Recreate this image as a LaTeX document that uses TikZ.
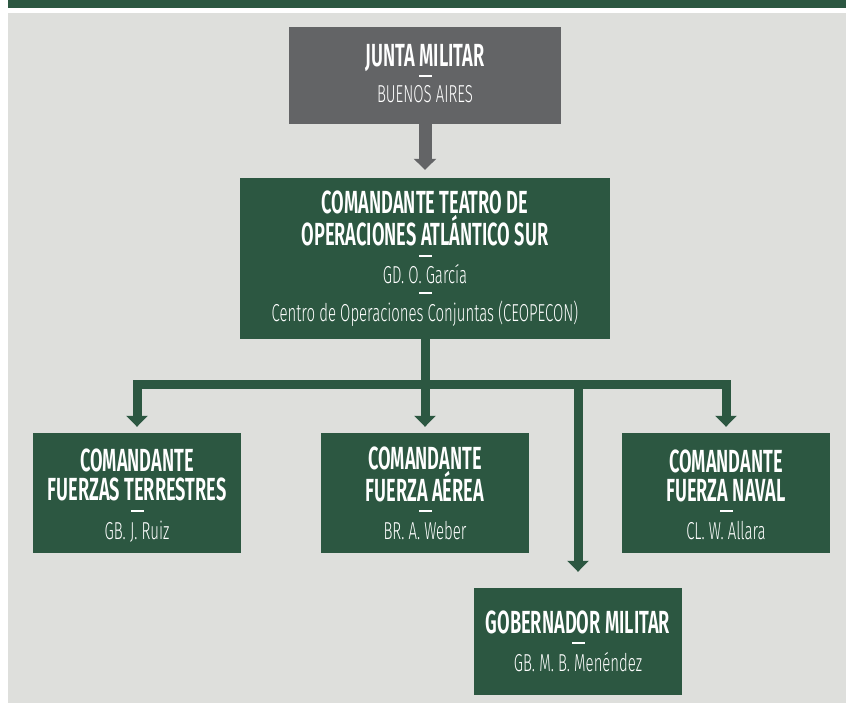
\documentclass[tikz,border=0pt]{standalone}
\usepackage{fontspec}
\usetikzlibrary{arrows.meta}
\setmainfont{Fira Sans}
\newfontfamily\titlefont{Fira Sans SemiBold}[FakeStretch=0.57]
\newfontfamily\namefont{Fira Sans Light}[FakeStretch=0.61]
\definecolor{armygreen}{RGB}{44,87,65}
\definecolor{juntagray}{RGB}{99,100,102}
\definecolor{paper}{RGB}{222,223,220}
\tikzset{
    unit/.style = {
        rectangle,
        fill           = armygreen,
        inner sep      = 0pt,
        minimum width  = 208pt,
        minimum height = 120pt,
    },
    heading/.style = {
        anchor    = base,
        text      = white,
        align     = center,
        inner sep = 0pt,
        font      = \titlefont\fontsize{32}{29.5}\selectfont,
    },
    rank/.style = {
        anchor    = base,
        text      = white,
        inner sep = 0pt,
        font      = \namefont\fontsize{24.5}{24.5}\selectfont,
    },
    divider/.style = {
        fill           = white,
        inner sep      = 0pt,
        minimum width  = 13pt,
        minimum height = 2pt,
    },
    link/.style = {
        draw       = armygreen,
        line width = 9pt,
        -{Triangle[width=21pt,length=11pt]},
        shorten >= 6pt,
    }
}

\begin{document}
\begin{tikzpicture}[x=1pt, y=-1pt]
  % page is 846 x 703, y grows downwards
  % headings sit on the baseline of their last line
  \useasboundingbox (0,0) rectangle (846,703);
  \fill[white] (0,0) rectangle (846,703);
  \fill[armygreen] (8,0) rectangle (846,8);
  \fill[paper] (8,13) rectangle (846,703);

  \node[unit, fill=juntagray, minimum width=272pt, minimum height=97pt] (junta) at (425,75.5) {};
  \node[heading] (junta-t) at (425,66.7) {JUNTA MILITAR};
  \node[divider] (junta-d) at (425,75.7) {};
  \node[rank] (junta-r) at (425,103) {BUENOS AIRES};

  \node[unit, minimum width=370pt, minimum height=161pt] (teatro) at (425,258.5) {};
  \node[heading] (teatro-t) at (425,245.7) {COMANDANTE TEATRO DE\\OPERACIONES ATLÁNTICO SUR};
  \node[divider] (teatro-d1) at (425,256) {};
  \node[rank] (teatro-r1) at (425,283.3) {GD. O. García};
  \node[divider] (teatro-d2) at (425,293.3) {};
  \node[rank] (teatro-r2) at (425,321.7) {Centro de Operaciones Conjuntas (CEOPECON)};

  \node[unit] (tierra) at (137,493) {};
  \node[heading] (tierra-t) at (137,500.7) {COMANDANTE\\FUERZAS TERRESTRES};
  \node[divider] (tierra-d) at (137,511) {};
  \node[rank] (tierra-r) at (137,539) {GB. J. Ruiz};

  \node[unit] (aerea) at (425,493) {};
  \node[heading] (aerea-t) at (425,501) {COMANDANTE\\FUERZA AÉREA};
  \node[divider] (aerea-d) at (425,510.7) {};
  \node[rank] (aerea-r) at (425,539) {BR. A. Weber};

  \node[unit] (naval) at (726,493) {};
  \node[heading] (naval-t) at (726,501.7) {COMANDANTE\\FUERZA NAVAL};
  \node[divider] (naval-d) at (726,511) {};
  \node[rank] (naval-r) at (726,539) {CL. W. Allara};

  \node[unit, minimum height=107pt] (gobernador) at (578,641.5) {};
  \node[heading] (gobernador-t) at (578,633.3) {GOBERNADOR MILITAR};
  \node[divider] (gobernador-d) at (578,643.3) {};
  \node[rank] (gobernador-r) at (578,671.7) {GB. M. B. Menéndez};

  \draw[link, draw=juntagray, line width=13pt, -{Triangle[width=22pt,length=11pt]},
        shorten >= 8pt] (junta.south) -- (teatro.north);

  \coordinate (bus) at (425,384.5);
  \draw[link] (teatro.south) -- (aerea.north);
  \draw[link] (bus) -| (tierra.north);
  \draw[link] (bus) -| (naval.north);
  \draw[link, shorten >= 16pt] (bus) -| (gobernador.north);
\end{tikzpicture}
\end{document}
